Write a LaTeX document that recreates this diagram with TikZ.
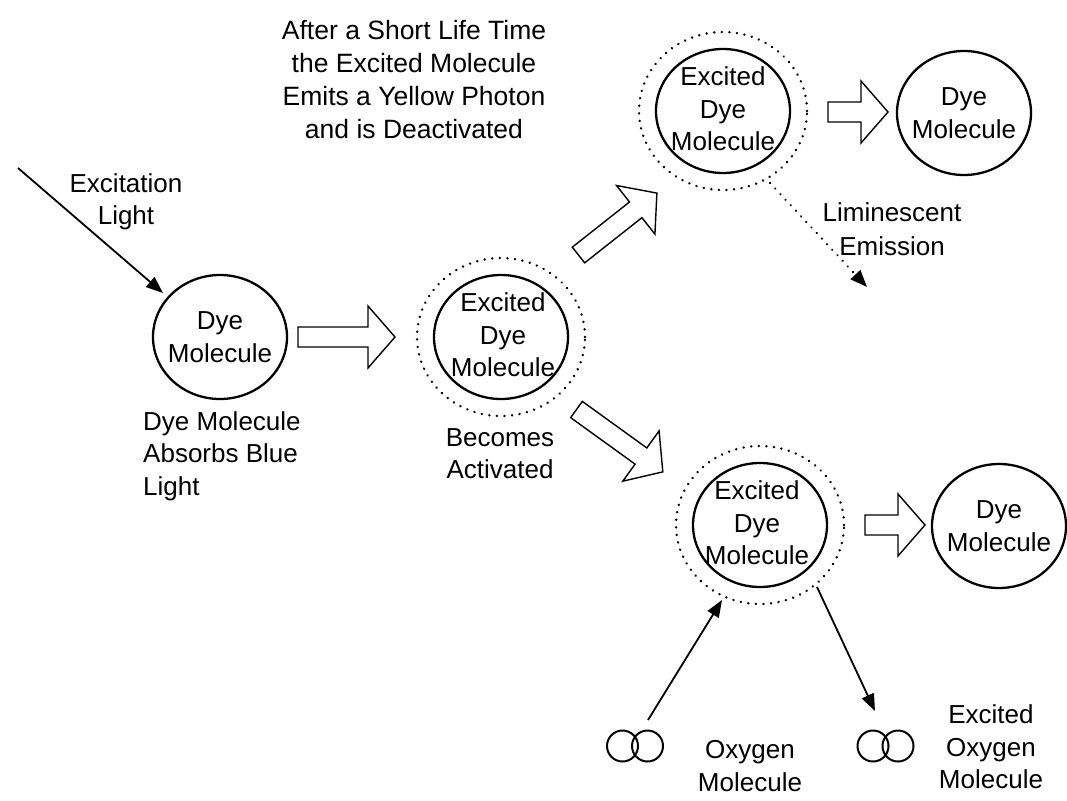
\documentclass[tikz,border=0pt]{standalone}
\usepackage{fontspec}
\setmainfont{Liberation Sans}
\usetikzlibrary{shapes.geometric,arrows.meta,calc}

\newcommand\fatarr[2]{%
  \path let \p1=($(#2)-(#1)$) in \pgfextra{%
    \pgfmathsetmacro\faAng{atan2(\y1,\x1)}%
    \pgfmathsetmacro\faLen{veclen(\x1,\y1)}%
    \global\let\faAng\faAng \global\let\faLen\faLen};
  \draw[fatarrow, shift={(#1)}, rotate=\faAng]
    (0,10) -- ({\faLen-27},10) -- ({\faLen-27},31) -- (\faLen,0)
    -- ({\faLen-27},-31) -- ({\faLen-27},-10) -- (0,-10) -- cycle;}

\begin{document}
\begin{tikzpicture}[x=1pt,y=-1pt,
  lbl/.style={font=\fontsize{26}{32.5}\selectfont, align=center, inner sep=0pt},
  mol/.style={draw, line width=2.3pt, ellipse, minimum width=134pt, minimum height=124pt, inner sep=0pt},
  halo/.style={draw, ellipse, line width=2.6pt, dash pattern=on 0.1pt off 7.5pt, line cap=round, minimum width=168pt, minimum height=158pt, inner sep=0pt},
  fatarrow/.style={draw, line width=1.4pt, line join=miter},
  thinarrow/.style={line width=1.8pt, -{Triangle[length=17pt,width=13pt]}},
  dotarrow/.style={line width=2.4pt, dash pattern=on 0.1pt off 7.5pt, line cap=round, -{Triangle[length=17pt,width=13pt]}},
  otwo/.style={draw, circle, line width=2pt, minimum size=31pt, inner sep=0pt}]

\useasboundingbox (0,0) rectangle (1067,800);

% molecules
\node[mol] (dye1) at (220,337) {};
\node[lbl] (dye1t) at (dye1.center) {Dye\\Molecule};

\node[halo] (halo1) at (501,337) {};
\node[mol] (exc1) at (501,337) {};
\node[lbl] (exc1t) at (503,335) {Excited\\Dye\\Molecule};

\node[halo] (halo2) at (723,111) {};
\node[mol] (exc2) at (723,111) {};
\node[lbl] (exc2t) at (723,109) {Excited\\Dye\\Molecule};

\node[mol] (dye2) at (964,113) {};
\node[lbl] (dye2t) at (dye2.center) {Dye\\Molecule};

\node[halo] (halo3) at (760,525) {};
\node[mol] (exc3) at (760,525) {};
\node[lbl] (exc3t) at (757,523) {Excited\\Dye\\Molecule};

\node[mol] (dye3) at (999,526) {};
\node[lbl] (dye3t) at (dye3.center) {Dye\\Molecule};

% oxygen molecules
\node[otwo] (oxa1) at (622.5,746) {};
\node[otwo] (oxa2) at (647.5,746) {};
\node[otwo] (oxb1) at (873,746) {};
\node[otwo] (oxb2) at (898,746) {};

% labels
\node[lbl] (excl) at (126,202) {Excitation\\Light};
\node[lbl, align=left, anchor=west] (absl) at (143,456) {Dye Molecule\\Absorbs Blue\\Light};
\node[lbl] (becl) at (500,453.5) {Becomes\\Activated};
\node[lbl, font=\fontsize{26.5}{33}\selectfont] (topl) at (414,80) {After a Short Life Time\\the Excited Molecule\\Emits a Yellow Photon\\and is Deactivated};
\node[lbl, font=\fontsize{26}{34}\selectfont] (luml) at (892,229.5) {Liminescent\\Emission};
\node[lbl] (oxl) at (750,766) {Oxygen\\Molecule};
\node[lbl] (eoxl) at (991,747) {Excited\\Oxygen\\Molecule};

% hollow arrows
\coordinate (f1s) at (298,337);   \coordinate (f1e) at (395,337);
\coordinate (f2s) at (578.5,255); \coordinate (f2e) at (657,193);
\coordinate (f3s) at (828,112);   \coordinate (f3e) at (888,112);
\coordinate (f4s) at (576.5,409.5); \coordinate (f4e) at (663,472);
\coordinate (f5s) at (865,525);   \coordinate (f5e) at (925,525);
\fatarr{f1s}{f1e}
\fatarr{f2s}{f2e}
\fatarr{f3s}{f3e}
\fatarr{f4s}{f4e}
\fatarr{f5s}{f5e}

% thin arrows
\coordinate (lightsrc) at (18,168);
\coordinate (lighthit) at (163,293);
\draw[thinarrow] (lightsrc) -- (lighthit);

\coordinate (lumsrc) at (770,183);
\coordinate (lumend) at (867,287);
\draw[dotarrow] (lumsrc) -- (lumend);

\coordinate (oxin) at (648,720);
\coordinate (oxinend) at (722,600);
\draw[thinarrow] (oxin) -- (oxinend);

\coordinate (oxout) at (817,587);
\coordinate (oxoutend) at (875,711);
\draw[thinarrow] (oxout) -- (oxoutend);
\end{tikzpicture}
\end{document}
